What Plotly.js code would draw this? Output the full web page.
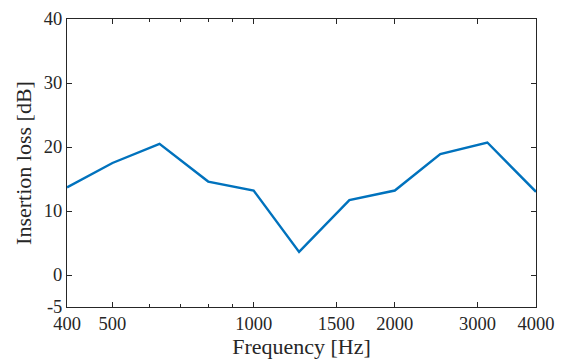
<!DOCTYPE html>
<html><head><meta charset="utf-8">
<script src="https://cdn.plot.ly/plotly-3.0.1.min.js"></script>
<style>html,body{margin:0;padding:0;background:#fff}</style>
</head><body><div id="chart" style="width:565px;height:364px"></div>
<script>
const frequencies = [400, 500, 630, 800, 1000, 1250, 1600, 2000, 2500, 3150, 4000];
const insertionLoss = [13.7, 17.5, 20.5, 14.6, 13.2, 3.6, 11.7, 13.2, 18.9, 20.7, 13.0];
const xTickVals = [400, 500, 1000, 1500, 2000, 3000, 4000];
const xTickText = ['400', '500', '1000', '1500', '2000', '3000', '4000'];
const xMinorVals = [600, 700, 800, 900];
const yTickVals = [-5, 0, 10, 20, 30, 40];
const yTickText = ['-5', '0', '10', '20', '30', '40'];

const axisColor = '#262626';
const fam = 'Liberation Serif';
const tickFont = {family: fam, size: 18.5, color: axisColor};
const titleFont = {family: fam, size: 22, color: axisColor};

Plotly.newPlot('chart', [{
  x: frequencies, y: insertionLoss, type: 'scatter', mode: 'lines',
  line: {color: '#0072BD', width: 2.4}
}], {
  width: 565, height: 364,
  margin: {l: 67, r: 29, t: 19, b: 57},
  paper_bgcolor: '#fff', plot_bgcolor: '#fff',
  font: tickFont, showlegend: false,
  xaxis: {
    type: 'log', range: [Math.log10(400), Math.log10(4000)],
    tickvals: xTickVals, ticktext: xTickText,
    ticks: 'inside', ticklen: 5, tickcolor: axisColor, tickwidth: 1,
    showline: true, linecolor: axisColor, linewidth: 1, mirror: 'ticks',
    showgrid: false, zeroline: false,
    tickfont: tickFont,
    minor: {tickvals: xMinorVals, ticks: 'inside', ticklen: 3, tickcolor: axisColor, showgrid: false},
    title: {text: 'Frequency [Hz]', font: titleFont, standoff: 5}
  },
  yaxis: {
    range: [-5, 40],
    tickvals: yTickVals, ticktext: yTickText,
    ticks: 'inside', ticklen: 5, tickcolor: axisColor, tickwidth: 1,
    showline: true, linecolor: axisColor, linewidth: 1, mirror: 'ticks',
    showgrid: false, zeroline: false,
    tickfont: tickFont,
    title: {text: 'Insertion loss [dB]', font: titleFont, standoff: 6}
  }
}, {staticPlot: true});
</script></body></html>
